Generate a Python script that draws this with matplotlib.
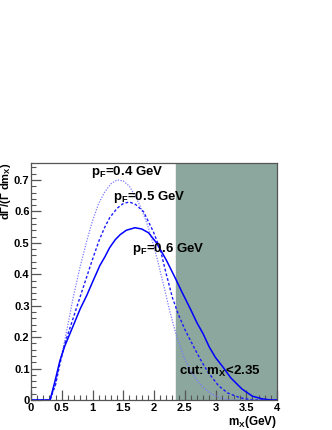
import matplotlib
matplotlib.use("Agg")
import matplotlib.pyplot as plt
from matplotlib.ticker import MultipleLocator

plt.rcParams['font.family'] = ['Liberation Sans', 'DejaVu Sans']
plt.rcParams['mathtext.fontset'] = 'custom'
plt.rcParams['mathtext.rm'] = 'Liberation Sans:bold'
plt.rcParams['mathtext.it'] = 'Liberation Sans:bold'
plt.rcParams['mathtext.bf'] = 'Liberation Sans:bold'

# pF = 0.4 GeV (dotted)
x_04 = [0.0, 0.31, 0.40, 0.47, 0.55, 0.61, 0.69, 0.80, 0.905, 1.0, 1.1, 1.2, 1.3, 1.4,
        1.5, 1.6, 1.72, 1.8, 1.88, 1.96, 2.05, 2.15, 2.26, 2.37, 2.5, 2.6, 2.7, 2.8,
        2.94, 3.1, 3.25, 4.0]
y_04 = [0.0, 0.0, 0.05, 0.12, 0.19, 0.25, 0.33, 0.425, 0.505, 0.57, 0.625, 0.662, 0.688, 0.70,
        0.697, 0.68, 0.64, 0.605, 0.565, 0.515, 0.45, 0.37, 0.28, 0.20, 0.13, 0.09, 0.062, 0.04,
        0.018, 0.005, 0.0, 0.0]

# pF = 0.5 GeV (dashed)
x_05 = [0.0, 0.31, 0.40, 0.47, 0.55, 0.66, 0.80, 0.96, 1.04, 1.11, 1.2, 1.28, 1.4, 1.5,
        1.6, 1.7, 1.83, 1.99, 2.1, 2.2, 2.3, 2.4, 2.5, 2.59, 2.67, 2.78, 2.88, 3.05,
        3.2, 3.4, 3.6, 4.0]
y_05 = [0.0, 0.0, 0.05, 0.115, 0.18, 0.245, 0.329, 0.424, 0.47, 0.509, 0.55, 0.58, 0.61, 0.625,
        0.63, 0.622, 0.599, 0.535, 0.48, 0.40, 0.325, 0.27, 0.225, 0.19, 0.16, 0.12, 0.088, 0.045,
        0.022, 0.007, 0.0, 0.0]

# pF = 0.6 GeV (solid)
x_06 = [0.0, 0.31, 0.39, 0.47, 0.55, 0.62, 0.69, 0.80, 0.905, 1.0, 1.12, 1.2, 1.28, 1.37, 1.45,
        1.55, 1.69, 1.8, 1.91, 2.04, 2.2, 2.34, 2.45, 2.59, 2.7, 2.8, 2.9, 3.0, 3.12,
        3.25, 3.43, 3.6, 3.75, 3.9, 4.0]
y_06 = [0.0, 0.0, 0.06, 0.125, 0.172, 0.205, 0.238, 0.29, 0.332, 0.375, 0.428, 0.455, 0.485, 0.51, 0.526,
        0.54, 0.548, 0.544, 0.532, 0.50, 0.445, 0.39, 0.345, 0.29, 0.245, 0.21, 0.168, 0.135, 0.105,
        0.07, 0.035, 0.012, 0.004, 0.0, 0.0]

cut = 2.35
labels = ['p$_F$=0.4 GeV', 'p$_F$=0.5 GeV', 'p$_F$=0.6 GeV']
label_pos = [(0.98, 0.725), (1.33, 0.645), (1.65, 0.48)]

fig = plt.figure(figsize=(3.32, 4.30), dpi=100)
ax = fig.add_axes([0.0934, 0.0698, 0.7410, 0.5512])

ax.axvspan(cut, 4.0, color='#8ca79e', zorder=0)

ax.plot(x_04, y_04, color='#7a7aff', lw=0.9, ls=(0, (1, 1.2)))
ax.plot(x_05, y_05, color='#1a1aff', lw=1.0, ls=(0, (2, 1.5)))
ax.plot(x_06, y_06, color='#0000ff', lw=1.1)

for txt, (tx, ty) in zip(labels, label_pos):
    ax.text(tx, ty, txt, fontsize=9.5, fontweight='bold', va='center', ha='left')
ax.text(2.4, 0.09, 'cut: m$_X$<2.35', fontsize=9.5, fontweight='bold', va='center', ha='left')

ax.set_xlim(0, 4)
ax.set_ylim(0, 0.754)
ax.xaxis.set_minor_locator(MultipleLocator(0.1))
ax.yaxis.set_minor_locator(MultipleLocator(0.02))
ax.set_xticks([0, 0.5, 1, 1.5, 2, 2.5, 3, 3.5, 4])
ax.set_xticklabels(['0', '0.5', '1', '1.5', '2', '2.5', '3', '3.5', '4'])
ax.set_yticks([0, 0.1, 0.2, 0.3, 0.4, 0.5, 0.6, 0.7])
ax.set_yticklabels(['0', '0.1', '0.2', '0.3', '0.4', '0.5', '0.6', '0.7'])

ax.tick_params(which='both', direction='in', top=False, right=False, color='#555555',
               labelsize=8, pad=2)
ax.tick_params(axis='y', which='both', pad=1)
ax.tick_params(which='major', length=7, width=0.9)
ax.tick_params(which='minor', length=3.5, width=0.8)
for lbl in ax.get_xticklabels() + ax.get_yticklabels():
    lbl.set_fontweight('bold')
for sp in ax.spines.values():
    sp.set_color('#555555')
    sp.set_linewidth(0.9)

ax.set_xlabel('m$_X$(GeV)', fontsize=8.5, fontweight='bold', loc='right', labelpad=1)
ax.set_ylabel('d$\\Gamma$/($\\Gamma$ dm$_X$)', fontsize=8, fontweight='bold', loc='top')
ax.yaxis.set_label_coords(-0.073, 1.0)

fig.savefig('out.png', dpi=100)
